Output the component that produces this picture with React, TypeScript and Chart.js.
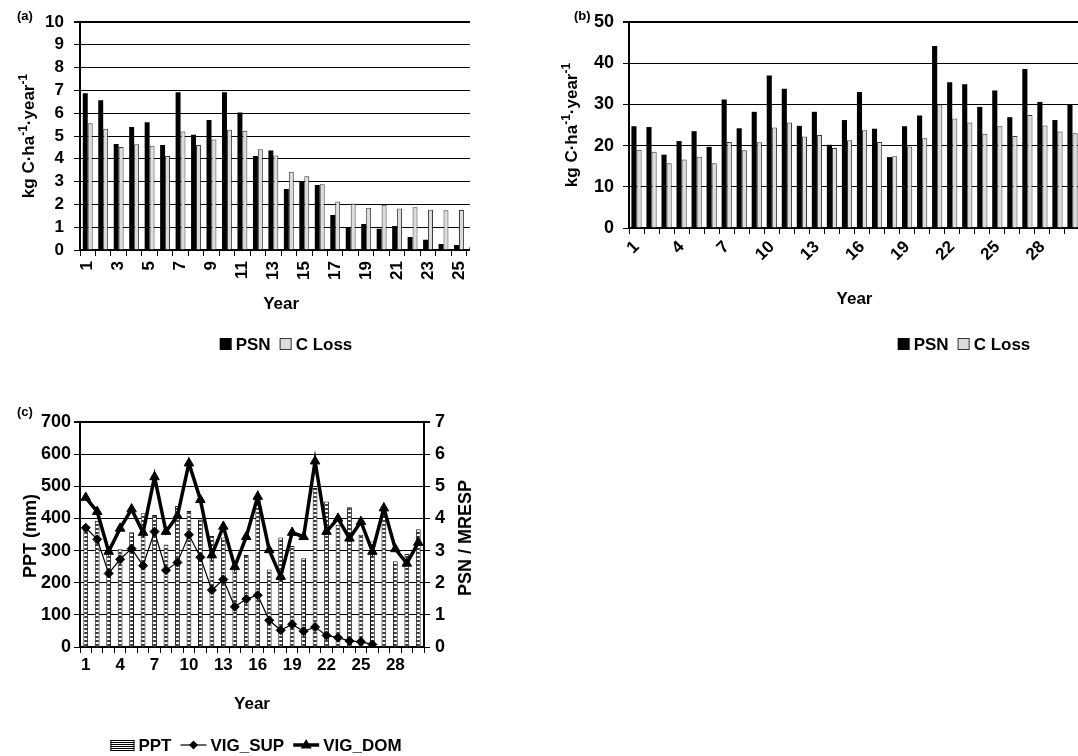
import React, { useEffect, useRef } from 'react';
import { Chart, registerables } from 'chart.js';

Chart.register(...registerables);

const FONT = "'Liberation Sans', Arial, Helvetica, sans-serif";
Chart.defaults.font.family = FONT;
Chart.defaults.color = '#000';

// ---------- Panel (a) ----------
const yearsA = ['1','2','3','4','5','6','7','8','9','10','11','12','13','14','15','16','17','18','19','20','21','22','23','24','25','26'];
const psnA = [6.88, 6.57, 4.65, 5.4, 5.6, 4.6, 6.92, 5.05, 5.7, 6.92, 6.03, 4.12, 4.36, 2.67, 3.02, 2.85, 1.53, 0.98, 1.14, 0.93, 1.05, 0.57, 0.45, 0.26, 0.22, 0.12];
const cLossA = [5.56, 5.32, 4.52, 4.64, 4.57, 4.12, 5.2, 4.6, 4.85, 5.27, 5.23, 4.42, 4.15, 3.43, 3.23, 2.88, 2.13, 2.04, 1.85, 1.99, 1.82, 1.87, 1.77, 1.74, 1.75, 1.78];
const yRangeA = { min: 0, max: 10, step: 1 };

// ---------- Panel (b) ----------
const yearsB = ['1','2','3','4','5','6','7','8','9','10','11','12','13','14','15','16','17','18','19','20','21','22','23','24','25','26','27','28','29','30'];
const psnB = [24.7, 24.5, 17.8, 21.1, 23.5, 19.7, 31.2, 24.2, 28.2, 37.0, 33.8, 24.8, 28.2, 20.2, 26.2, 33.0, 24.1, 17.2, 24.7, 27.3, 44.2, 35.4, 34.9, 29.4, 33.4, 26.9, 38.6, 30.6, 26.2, 30.0];
const cLossB = [19.0, 18.5, 15.7, 16.6, 17.3, 15.7, 20.9, 18.9, 20.8, 24.4, 25.6, 22.2, 22.6, 19.4, 21.3, 23.7, 20.9, 17.4, 19.8, 21.8, 30.0, 26.6, 25.6, 22.9, 24.7, 22.3, 27.4, 24.9, 23.4, 23.0];
const yRangeB = { min: 0, max: 50, step: 10 };

// ---------- Panel (c) ----------
const yearsC = ['1','2','3','4','5','6','7','8','9','10','11','12','13','14','15','16','17','18','19','20','21','22','23','24','25','26','27','28','29','30'];
const pptC = [368, 393, 295, 304, 357, 416, 411, 319, 439, 423, 397, 345, 341, 250, 286, 463, 241, 341, 314, 276, 495, 453, 380, 435, 349, 328, 427, 267, 289, 366];
const vigSupC = [3.71, 3.35, 2.29, 2.73, 3.06, 2.53, 3.59, 2.39, 2.63, 3.49, 2.79, 1.77, 2.1, 1.25, 1.49, 1.61, 0.83, 0.52, 0.71, 0.49, 0.62, 0.36, 0.29, 0.19, 0.16, 0.08, null, null, null, null];
const vigDomC = [4.65, 4.21, 2.97, 3.69, 4.29, 3.56, 5.29, 3.59, 4.08, 5.72, 4.58, 2.86, 3.75, 2.5, 3.43, 4.68, 3.02, 2.19, 3.56, 3.43, 5.78, 3.59, 4.0, 3.38, 3.9, 2.97, 4.32, 3.05, 2.6, 3.25];
const yRangeC = { min: 0, max: 700, step: 100 };
const y1RangeC = { min: 0, max: 7, step: 1 };

const kgTitle = [{ t: 'kg C·ha' }, { t: '-1', sup: true }, { t: '·year' }, { t: '-1', sup: true }];

function bold(size: number) {
  return { family: FONT, size, weight: 'bold' as const };
}

// --------- decoration helpers (titles with superscripts, legend, panel label) ---------
function drawVertical(ctx: CanvasRenderingContext2D, t: any) {
  ctx.save();
  ctx.translate(t.x, t.y);
  ctx.rotate(-Math.PI / 2);
  const size = t.size;
  const supSize = Math.round(size * 0.7);
  const widths = t.parts.map((p: any) => {
    ctx.font = `bold ${p.sup ? supSize : size}px ${FONT}`;
    return ctx.measureText(p.t).width;
  });
  const total = widths.reduce((a: number, b: number) => a + b, 0);
  let cx = -total / 2;
  ctx.textAlign = 'left';
  ctx.textBaseline = 'alphabetic';
  ctx.fillStyle = '#000';
  const base = size * 0.36;
  t.parts.forEach((p: any, i: number) => {
    ctx.font = `bold ${p.sup ? supSize : size}px ${FONT}`;
    ctx.fillText(p.t, cx, p.sup ? base - size * 0.42 : base);
    cx += widths[i];
  });
  ctx.restore();
}

function symbolWidth(kind: string) {
  if (kind === 'box') return 12;
  if (kind === 'pattern') return 24;
  return 26;
}

function drawLegend(ctx: CanvasRenderingContext2D, lg: any) {
  ctx.save();
  ctx.font = `bold ${lg.size}px ${FONT}`;
  const gapIn = 4;
  const gapOut = 9;
  const widths = lg.items.map((it: any) => symbolWidth(it.kind) + gapIn + ctx.measureText(it.text).width);
  const total = widths.reduce((a: number, b: number) => a + b, 0) + gapOut * (lg.items.length - 1);
  let x = lg.cx - total / 2;
  const cy = lg.cy;
  lg.items.forEach((it: any, i: number) => {
    const sw = symbolWidth(it.kind);
    if (it.kind === 'box') {
      ctx.fillStyle = it.fill;
      ctx.fillRect(x, cy - 6, 12, 12);
      if (it.stroke) {
        ctx.strokeStyle = it.stroke;
        ctx.lineWidth = 1;
        ctx.strokeRect(x + 0.5, cy - 5.5, 11, 11);
      }
    } else if (it.kind === 'pattern') {
      ctx.fillStyle = '#fff';
      ctx.fillRect(x, cy - 5, sw, 10);
      ctx.strokeStyle = '#000';
      ctx.lineWidth = 1;
      for (let yy = cy - 5; yy <= cy + 5; yy += 2) {
        ctx.beginPath();
        ctx.moveTo(x, yy + 0.5);
        ctx.lineTo(x + sw, yy + 0.5);
        ctx.stroke();
      }
      ctx.strokeRect(x + 0.5, cy - 4.5, sw - 1, 10);
    } else {
      ctx.strokeStyle = '#000';
      ctx.lineWidth = it.width;
      ctx.beginPath();
      ctx.moveTo(x, cy);
      ctx.lineTo(x + sw, cy);
      ctx.stroke();
      ctx.fillStyle = '#000';
      const mx = x + sw / 2;
      ctx.beginPath();
      if (it.marker === 'diamond') {
        ctx.moveTo(mx, cy - 4.5);
        ctx.lineTo(mx + 4.5, cy);
        ctx.lineTo(mx, cy + 4.5);
        ctx.lineTo(mx - 4.5, cy);
      } else {
        ctx.moveTo(mx, cy - 6);
        ctx.lineTo(mx + 5.5, cy + 3.5);
        ctx.lineTo(mx - 5.5, cy + 3.5);
      }
      ctx.closePath();
      ctx.fill();
    }
    ctx.fillStyle = '#000';
    ctx.font = `bold ${lg.size}px ${FONT}`;
    ctx.textAlign = 'left';
    ctx.textBaseline = 'middle';
    ctx.fillText(it.text, x + sw + gapIn, cy + 1);
    x += widths[i] + gapOut;
  });
  ctx.restore();
}

function makeDecor(cfg: any) {
  return {
    id: 'decor',
    afterDraw(chart: any) {
      const ctx = chart.ctx as CanvasRenderingContext2D;
      ctx.save();
      if (cfg.label) {
        ctx.fillStyle = '#000';
        ctx.font = `bold ${cfg.label.size}px ${FONT}`;
        ctx.textAlign = 'left';
        ctx.textBaseline = 'middle';
        ctx.fillText(cfg.label.text, cfg.label.x, cfg.label.y);
      }
      (cfg.vTitles || []).forEach((t: any) => drawVertical(ctx, t));
      if (cfg.legend) drawLegend(ctx, cfg.legend);
      ctx.restore();
    },
  };
}

function yScale(range: any, width: number, size: number, pad: number, pos: 'left' | 'right' = 'left', grid = true) {
  return {
    position: pos,
    min: range.min,
    max: range.max,
    ticks: { stepSize: range.step, autoSkip: false, font: bold(size), color: '#000', padding: pad },
    grid: {
      display: true,
      drawOnChartArea: grid,
      drawTicks: true,
      tickLength: 6,
      color: '#000',
      lineWidth: (c: any) => (c.tick && c.tick.value === range.max ? 2 : 1),
    },
    border: { display: true, color: '#000', width: 2 },
    afterFit: (s: any) => {
      s.width = width;
    },
  };
}

function xScale(height: number, size: number, every: number, rotation: number, titleSize: number, pad: number) {
  return {
    offset: true,
    grid: { display: true, drawOnChartArea: false, drawTicks: true, tickLength: 6, color: '#000', offset: true },
    border: { display: true, color: '#000', width: 2 },
    ticks: {
      autoSkip: false,
      maxRotation: rotation,
      minRotation: rotation,
      padding: pad,
      font: bold(size),
      color: '#000',
      callback: function (this: any, v: any, i: number) {
        return i % every === 0 ? this.getLabelForValue(v) : '';
      },
    },
    title: { display: true, text: 'Year', font: bold(titleSize), color: '#000', padding: { top: 0, bottom: 0 } },
    afterFit: (s: any) => {
      s.height = height;
    },
  };
}

function configA(): any {
  return {
    type: 'bar',
    data: {
      labels: yearsA,
      datasets: [
        { label: 'PSN', data: psnA, backgroundColor: '#000', borderWidth: 0, categoryPercentage: 0.64, barPercentage: 1 },
        { label: 'C Loss', data: cLossA, backgroundColor: '#dcdcdc', borderColor: '#3a3a3a', borderWidth: 1, categoryPercentage: 0.64, barPercentage: 1 },
      ],
    },
    options: {
      animation: false,
      responsive: false,
      layout: { padding: { left: 0, right: 8, top: 22, bottom: 45 } },
      plugins: { legend: { display: false }, tooltip: { enabled: false } },
      scales: { x: xScale(65, 17, 2, 90, 17, 5), y: yScale(yRangeA, 80, 17, 10) },
    },
    plugins: [
      makeDecor({
        label: { text: '(a)', x: 17, y: 16, size: 13 },
        vTitles: [{ parts: kgTitle, x: 28, y: 136, size: 17 }],
        legend: {
          cx: 286,
          cy: 344,
          size: 17,
          items: [
            { kind: 'box', fill: '#000', text: 'PSN' },
            { kind: 'box', fill: '#dcdcdc', stroke: '#3a3a3a', text: 'C Loss' },
          ],
        },
      }),
    ],
  };
}

function configB(): any {
  return {
    type: 'bar',
    data: {
      labels: yearsB,
      datasets: [
        { label: 'PSN', data: psnB, backgroundColor: '#000', borderWidth: 0, categoryPercentage: 0.68, barPercentage: 1 },
        { label: 'C Loss', data: cLossB, backgroundColor: '#dcdcdc', borderColor: '#3a3a3a', borderWidth: 1, categoryPercentage: 0.68, barPercentage: 1 },
      ],
    },
    options: {
      animation: false,
      responsive: false,
      layout: { padding: { left: 0, right: 4, top: 22, bottom: 50 } },
      plugins: { legend: { display: false }, tooltip: { enabled: false } },
      scales: { x: xScale(82, 17, 3, 45, 17, 3), y: yScale(yRangeB, 89, 18, 9) },
    },
    plugins: [
      makeDecor({
        label: { text: '(b)', x: 34, y: 16, size: 13 },
        vTitles: [{ parts: kgTitle, x: 31, y: 125, size: 17 }],
        legend: {
          cx: 424,
          cy: 344,
          size: 17,
          items: [
            { kind: 'box', fill: '#000', text: 'PSN' },
            { kind: 'box', fill: '#dcdcdc', stroke: '#3a3a3a', text: 'C Loss' },
          ],
        },
      }),
    ],
  };
}

function makePattern(): CanvasPattern | string {
  const c = document.createElement('canvas');
  c.width = 4;
  c.height = 4;
  const g = c.getContext('2d');
  if (!g) return '#777';
  g.fillStyle = '#ffffff';
  g.fillRect(0, 0, 4, 4);
  g.fillStyle = '#3c3c3c';
  g.fillRect(0, 0, 4, 2);
  const p = g.createPattern(c, 'repeat');
  return p || '#777';
}

function configC(): any {
  return {
    type: 'bar',
    data: {
      labels: yearsC,
      datasets: [
        {
          type: 'line',
          label: 'VIG_DOM',
          data: vigDomC,
          yAxisID: 'y1',
          borderColor: '#000',
          borderWidth: 3.5,
          pointStyle: 'triangle',
          pointRadius: 5.5,
          pointBackgroundColor: '#000',
          pointBorderColor: '#000',
          pointBorderWidth: 1,
          tension: 0,
          order: 0,
        },
        {
          type: 'line',
          label: 'VIG_SUP',
          data: vigSupC,
          yAxisID: 'y1',
          borderColor: '#000',
          borderWidth: 1.2,
          pointStyle: 'rectRot',
          pointRadius: 4.5,
          pointBackgroundColor: '#000',
          pointBorderColor: '#000',
          pointBorderWidth: 1,
          tension: 0,
          spanGaps: false,
          order: 1,
        },
        {
          type: 'bar',
          label: 'PPT',
          data: pptC,
          yAxisID: 'y',
          backgroundColor: makePattern(),
          borderColor: '#1a1a1a',
          borderWidth: 1,
          categoryPercentage: 0.42,
          barPercentage: 1,
          order: 3,
        },
      ],
    },
    options: {
      animation: false,
      responsive: false,
      layout: { padding: { left: 0, right: 0, top: 22, bottom: 41 } },
      plugins: { legend: { display: false }, tooltip: { enabled: false } },
      scales: {
        x: xScale(68, 17, 3, 0, 17, 2),
        y: yScale(yRangeC, 80, 18, 3),
        y1: yScale(y1RangeC, 56, 18, 5, 'right', false),
      },
    },
    plugins: [
      makeDecor({
        label: { text: '(c)', x: 17, y: 12, size: 13 },
        vTitles: [
          { parts: [{ t: 'PPT (mm)' }], x: 30, y: 136, size: 18 },
          { parts: [{ t: 'PSN / MRESP' }], x: 465, y: 138, size: 18 },
        ],
        legend: {
          cx: 256,
          cy: 345,
          size: 17,
          items: [
            { kind: 'pattern', text: 'PPT' },
            { kind: 'line', width: 1.2, marker: 'diamond', text: 'VIG_SUP' },
            { kind: 'line', width: 3.5, marker: 'triangle', text: 'VIG_DOM' },
          ],
        },
      }),
    ],
  };
}

function ChartCanvas({ width, height, makeConfig }: { width: number; height: number; makeConfig: () => any }) {
  const ref = useRef<HTMLCanvasElement>(null);
  useEffect(() => {
    if (!ref.current) return;
    const chart = new Chart(ref.current, makeConfig());
    return () => chart.destroy();
  }, []);
  return <canvas ref={ref} width={width} height={height} style={{ display: 'block', width, height }} />;
}

export default function App() {
  return (
    <div style={{ position: 'fixed', left: 0, top: 0, width: 1078, height: 756, overflow: 'hidden', background: '#fff' }}>
      <div style={{ position: 'absolute', left: 0, top: 0, width: 470, height: 360, overflow: 'hidden' }}>
        <ChartCanvas width={500} height={360} makeConfig={configA} />
      </div>
      <div style={{ position: 'absolute', left: 540, top: 0, width: 538, height: 360, overflow: 'hidden' }}>
        <ChartCanvas width={550} height={360} makeConfig={configB} />
      </div>
      <div style={{ position: 'absolute', left: 0, top: 400, width: 480, height: 356, overflow: 'hidden' }}>
        <ChartCanvas width={480} height={356} makeConfig={configC} />
      </div>
    </div>
  );
}
